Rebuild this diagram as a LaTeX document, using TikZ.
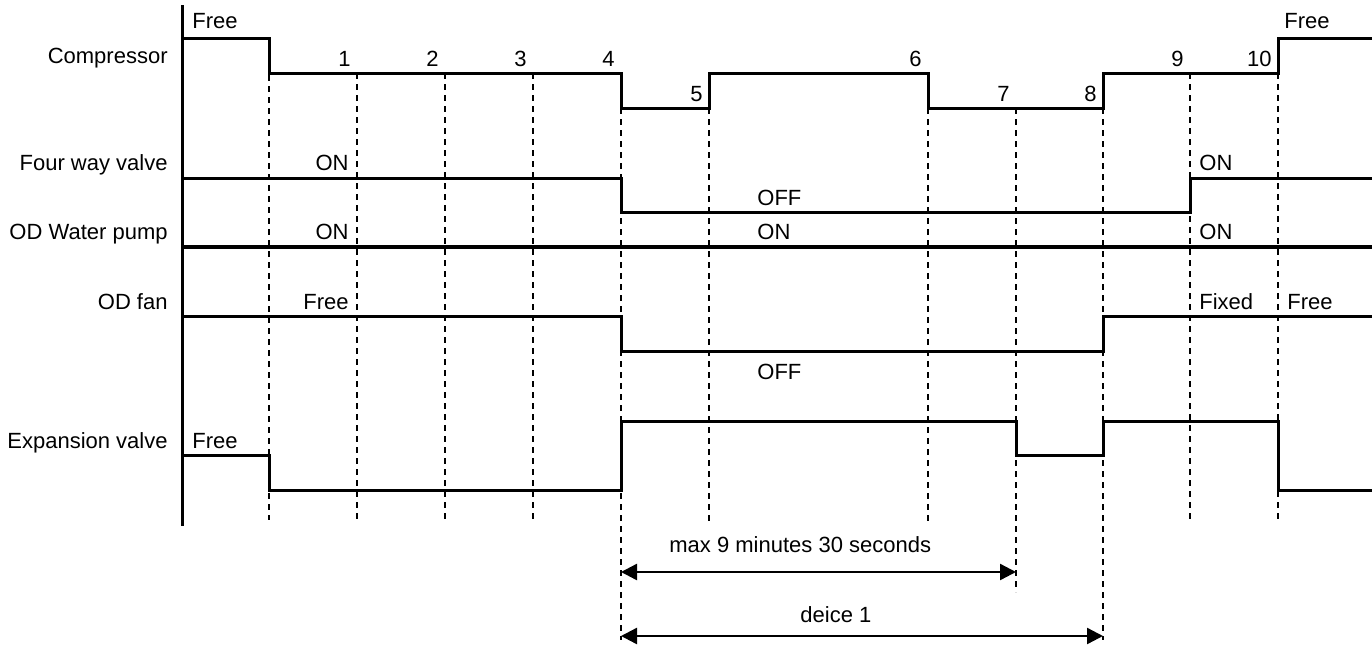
\documentclass[tikz,border=0pt]{standalone}
\usepackage{fontspec}
\setmainfont{Liberation Sans}
\usetikzlibrary{arrows.meta}

\begin{document}
\begin{tikzpicture}[x=0.5pt, y=-0.5pt, every node/.style={font=\fontsize{11}{13}\selectfont, inner sep=0pt}]
        \tikzstyle{sig} = [line width=1.5pt, line join=miter]
        \tikzstyle{guide} = [line width=0.6pt, dash pattern=on 3pt off 2.5pt]
        \tikzstyle{lbl} = [anchor=base east]
        \tikzstyle{txt} = [anchor=base west]
        \useasboundingbox (0,0) rectangle (1372,648);
        % dashed time marks
        \foreach \x/\a/\b in {269/75/520, 357/73/520, 445/73/520, 533/73/520, 621/108/640, 709/108/524,
                              928/108/524, 1016/108/592, 1103/108/640, 1190/73/520, 1278/73/520}
          \draw[guide] (\x,\a) -- (\x,\b);
        % axis
        \draw[sig] (182,5) -- (182,526);
        % signals
        \draw[sig] (182,38) -- (269,38) -- (269,73) -- (621,73) -- (621,108) -- (709,108) -- (709,73)
              -- (928,73) -- (928,108) -- (1103,108) -- (1103,73) -- (1278,73) -- (1278,38) -- (1372,38);
        \draw[sig] (182,178) -- (621,178) -- (621,212) -- (1190,212) -- (1190,178) -- (1372,178);
        \draw[sig, line width=1.8pt] (182,247) -- (1372,247);
        \draw[sig] (182,316) -- (621,316) -- (621,351) -- (1103,351) -- (1103,316) -- (1372,316);
        \draw[sig] (182,455) -- (269,455) -- (269,490) -- (621,490) -- (621,421) -- (1016,421)
              -- (1016,455) -- (1103,455) -- (1103,421) -- (1278,421) -- (1278,490) -- (1372,490);
        % row names
        \node[lbl] (comp) at (168,63) {Compressor};
        \node[lbl] (fwv) at (168,170) {Four way valve};
        \node[lbl] (pump) at (168,239) {OD Water pump};
        \node[lbl] (fan) at (168,309) {OD fan};
        \node[lbl] (expv) at (168,448) {Expansion valve};
        % step numbers
        \foreach \n/\x in {1/351, 2/439, 3/527, 4/615, 6/922, 9/1184, 10/1272}
          \node[lbl] (n\n) at (\x,66) {\n};
        \foreach \n/\x in {5/703, 7/1010, 8/1097}
          \node[lbl] (n\n) at (\x,101) {\n};
        % states
        \node[txt] (compfree) at (192,28) {Free};
        \node[txt] (compfree2) at (1284,28) {Free};
        \node[lbl] (fwvon) at (349,170) {ON};
        \node[txt] (fwvoff) at (757,205) {OFF};
        \node[txt] (fwvon2) at (1199,170) {ON};
        \node[lbl] (pumpon) at (349,239) {ON};
        \node[txt] (pumpon2) at (757,239) {ON};
        \node[txt] (pumpon3) at (1199,239) {ON};
        \node[lbl] (fanfree) at (349,309) {Free};
        \node[txt] (fanoff) at (757,379) {OFF};
        \node[txt] (fanfixed) at (1199,309) {Fixed};
        \node[txt] (fanfree2) at (1287,309) {Free};
        \node[txt] (expfree) at (192,448) {Free};
        % durations
        \coordinate (m4) at (621,572);
        \coordinate (m7) at (1016,572);
        \coordinate (d4) at (621,636);
        \coordinate (d8) at (1103,636);
        \draw[{Triangle[length=8pt,width=8pt]}-{Triangle[length=8pt,width=8pt]}, line width=1.2pt] (m4) -- (m7);
        \draw[{Triangle[length=8pt,width=8pt]}-{Triangle[length=8pt,width=8pt]}, line width=1.2pt] (d4) -- (d8);
        \node[txt] (maxt) at (669,552) {max 9 minutes 30 seconds};
        \node[txt] (deice) at (800,622) {deice 1};
      \end{tikzpicture}
\end{document}
